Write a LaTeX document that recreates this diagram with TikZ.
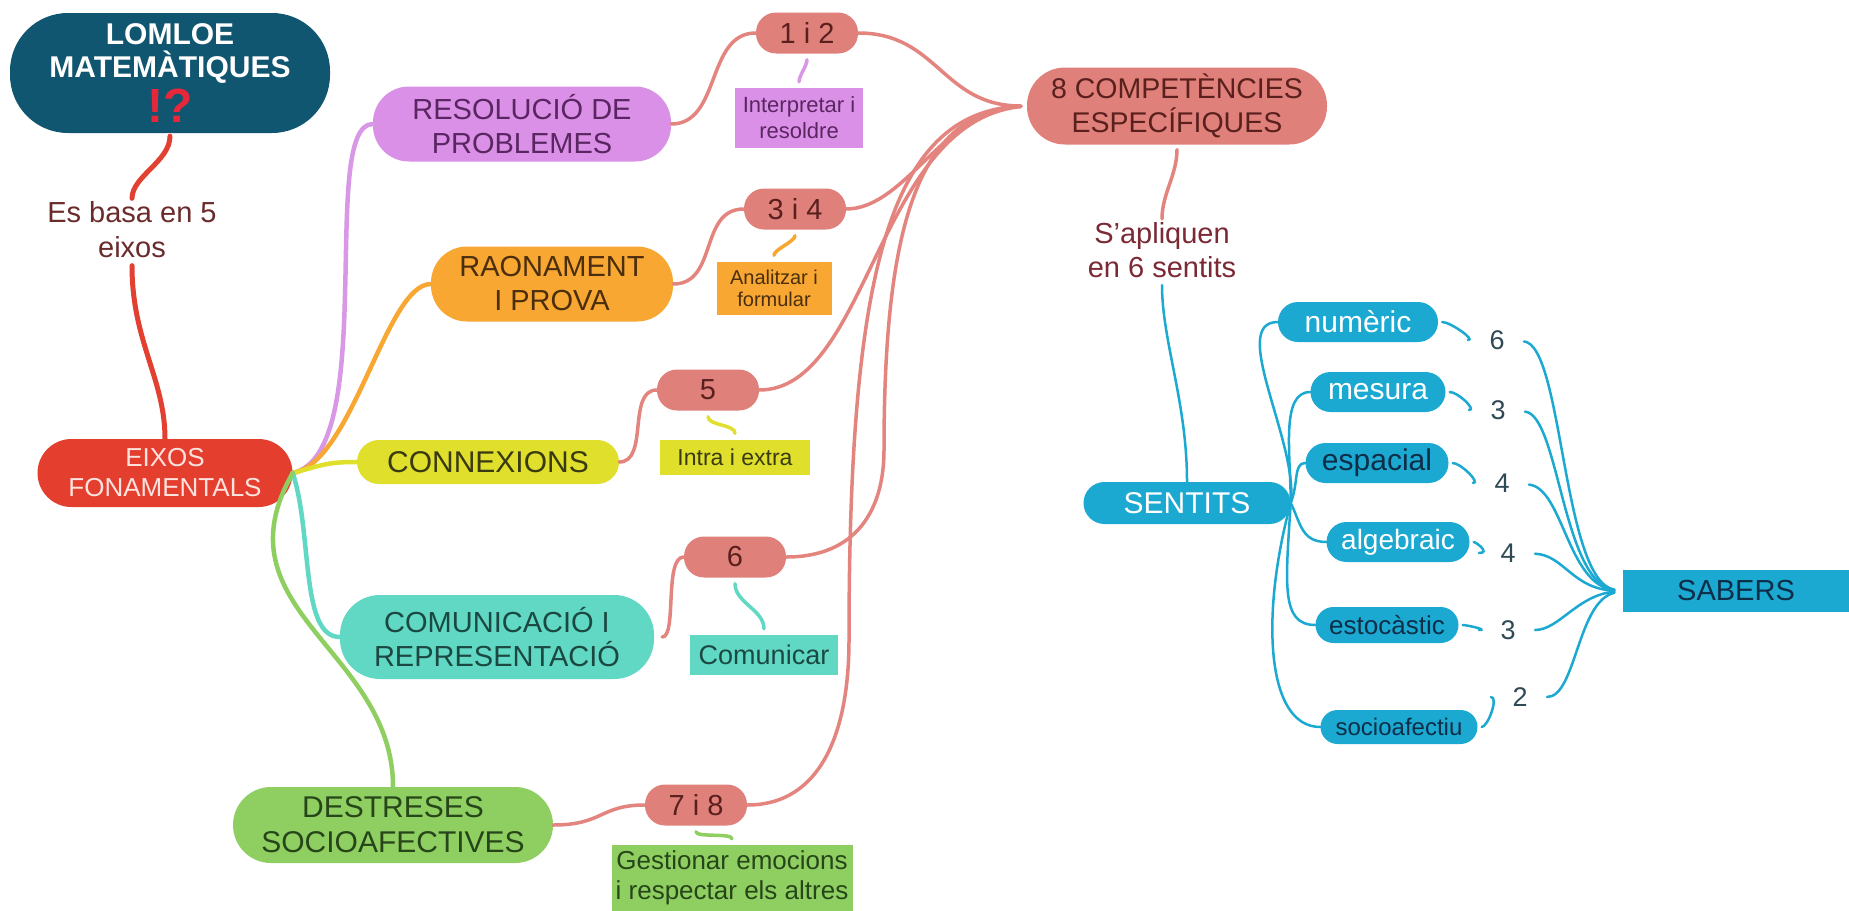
\documentclass[tikz,border=0pt]{standalone}
\usepackage{fontspec}
\setmainfont{Liberation Sans}
\usepackage{tikz}

\definecolor{deepteal}{RGB}{16,86,112}
\definecolor{qred}{RGB}{230,40,58}
\definecolor{eixred}{RGB}{228,62,46}
\definecolor{eixtext}{RGB}{253,226,222}
\definecolor{redline}{RGB}{226,64,48}
\definecolor{basatext}{RGB}{107,43,43}
\definecolor{resviolet}{RGB}{219,144,232}
\definecolor{resline}{RGB}{216,152,230}
\definecolor{resdark}{RGB}{90,38,98}
\definecolor{raoorange}{RGB}{248,167,50}
\definecolor{raodark}{RGB}{74,46,14}
\definecolor{conyellow}{RGB}{224,224,44}
\definecolor{condark}{RGB}{58,58,18}
\definecolor{comteal}{RGB}{96,216,196}
\definecolor{comdark}{RGB}{28,72,66}
\definecolor{desgreen}{RGB}{143,207,98}
\definecolor{desdark}{RGB}{38,70,26}
\definecolor{salmon}{RGB}{224,128,122}
\definecolor{salmonline}{RGB}{228,132,126}
\definecolor{salmondark}{RGB}{90,32,30}
\definecolor{sapltext}{RGB}{122,41,53}
\definecolor{sentblue}{RGB}{27,169,210}
\definecolor{bluedark}{RGB}{14,46,72}
\definecolor{numgray}{RGB}{47,74,85}

\begin{document}
\begin{tikzpicture}[x=1pt,y=-1pt,
        topic/.style={rounded corners=36pt,align=center,inner sep=0pt,minimum height=75pt,font=\fontsize{29}{34}\selectfont},
        compnum/.style={rounded corners=20pt,fill=salmon,text=salmondark,inner sep=0pt,minimum width=102pt,minimum height=41pt,font=\fontsize{29}{34}\selectfont},
        tag/.style={align=center,inner sep=0pt},
        sense/.style={rounded corners=20pt,fill=sentblue,inner sep=0pt,minimum height=40pt},
        count/.style={text=numgray,font=\fontsize{27}{30}\selectfont},
        branch/.style={line width=4.5pt,line cap=round},
        complink/.style={draw=salmonline,line width=3.5pt,line cap=round},
        twig/.style={line width=3.5pt,line cap=round,shorten <=6pt,shorten >=6pt},
        thread/.style={draw=sentblue,line width=2.5pt,line cap=round},
        bluetwig/.style={thread,shorten <=4pt,shorten >=18pt}
    ]

    \useasboundingbox[fill=white] (0,0) rectangle (1849,910);

    \node[topic,rounded corners=58pt,fill=deepteal,text=white,minimum width=320pt,minimum height=120pt,font=\bfseries\fontsize{30}{33}\selectfont] (lomloe) at (170,73) {LOMLOE\\MATEMÀTIQUES\\[4pt]{\fontsize{48}{40}\selectfont\color{qred}!?}};
    \node[text=basatext,align=center,font=\fontsize{29}{35}\selectfont] (basa) at (132,230) {Es basa en 5\\eixos};
    \node[topic,rounded corners=34pt,fill=eixred,text=eixtext,minimum width=255pt,minimum height=68pt,font=\fontsize{26}{30}\selectfont] (eixos) at (165,473) {EIXOS\\FONAMENTALS};

    \node[topic,fill=resviolet,text=resdark,minimum width=298pt] (res) at (522,124) {RESOLUCIÓ DE\\PROBLEMES};
    \node[topic,fill=raoorange,text=raodark,minimum width=242pt] (rao) at (552,284) {RAONAMENT\\I PROVA};
    \node[topic,rounded corners=22pt,fill=conyellow,text=condark,minimum width=262pt,minimum height=44pt,font=\fontsize{30}{34}\selectfont] (con) at (488,462) {CONNEXIONS};
    \node[topic,rounded corners=40pt,fill=comteal,text=comdark,minimum width=314pt,minimum height=84pt] (com) at (497,637) {COMUNICACIÓ I\\REPRESENTACIÓ};
    \node[topic,rounded corners=38pt,fill=desgreen,text=desdark,minimum width=320pt,minimum height=76pt,font=\fontsize{30}{35}\selectfont] (des) at (393,825) {DESTRESES\\SOCIOAFECTIVES};

    \node[compnum] (c12) at (807,33) {1 i 2};
    \node[compnum] (c34) at (795,209) {3 i 4};
    \node[compnum] (c5) at (708,390) {5};
    \node[compnum] (c6) at (735,557) {6};
    \node[compnum] (c78) at (696,805) {7 i 8};

    \node[tag,fill=resviolet,text=resdark,minimum width=128pt,minimum height=60pt,font=\fontsize{22}{26}\selectfont] (t12) at (799,118) {Interpretar i\\resoldre};
    \node[tag,fill=raoorange,text=raodark,minimum width=115pt,minimum height=53pt,font=\fontsize{20}{22}\selectfont] (t34) at (774,288) {Analitzar i\\formular};
    \node[tag,fill=conyellow,text=condark,minimum width=150pt,minimum height=35pt,font=\fontsize{23}{26}\selectfont] (t5) at (735,457) {Intra i extra};
    \node[tag,fill=comteal,text=comdark,minimum width=148pt,minimum height=40pt,font=\fontsize{27}{30}\selectfont] (t6) at (764,655) {Comunicar};
    \node[tag,fill=desgreen,text=desdark,minimum width=241pt,minimum height=66pt,font=\fontsize{26}{30}\selectfont] (t78) at (732,878) {Gestionar emocions\\i respectar els altres};

    \node[topic,rounded corners=38pt,fill=salmon,text=salmondark,minimum width=300pt,minimum height=77pt,font=\fontsize{28.5}{34}\selectfont] (comp) at (1177,106) {8 COMPETÈNCIES\\ESPECÍFIQUES};
    \node[text=sapltext,align=center,font=\fontsize{29}{34}\selectfont] (apl) at (1162,250) {S'apliquen\\en 6 sentits};

    \node[sense,rounded corners=21pt,minimum width=207pt,minimum height=42pt,text=white,font=\fontsize{30}{34}\selectfont] (sent) at (1187,503) {SENTITS};
    \node[sense,minimum width=160pt,text=white,font=\fontsize{30}{34}\selectfont] (snum) at (1358,322) {numèric};
    \node[sense,minimum width=135pt,text=white,font=\fontsize{30}{34}\selectfont] (smes) at (1378,392) {mesura};
    \node[sense,minimum width=143pt,text=bluedark,font=\fontsize{30}{34}\selectfont] (sesp) at (1377,463) {espacial};
    \node[sense,minimum width=143pt,text=white,font=\fontsize{28}{32}\selectfont] (salg) at (1398,542) {algebraic};
    \node[sense,rounded corners=18pt,minimum width=143pt,minimum height=36pt,text=bluedark,font=\fontsize{26}{30}\selectfont] (sest) at (1387,625) {estocàstic};
    \node[sense,rounded corners=17pt,minimum width=157pt,minimum height=34pt,text=bluedark,font=\fontsize{24}{28}\selectfont] (ssoc) at (1399,727) {socioafectiu};

    \node[count] (k6) at (1497,340) {6};
    \node[count] (k3) at (1498,410) {3};
    \node[count] (k4) at (1502,483) {4};
    \node[count] (k4b) at (1508,553) {4};
    \node[count] (k3b) at (1508,630) {3};
    \node[count] (k2) at (1520,697) {2};

    \node[fill=sentblue,text=bluedark,inner sep=0pt,minimum width=227pt,minimum height=42pt,font=\fontsize{29}{32}\selectfont] (sab) at (1736,591) {SABERS};

    \coordinate (bend6) at (884,450);
    \coordinate (bend78) at (849,640);

    \draw[branch,draw=redline,line width=5pt,shorten <=3pt] (lomloe.south) .. controls +(0,28) and +(0,-22) .. (basa.north);
    \draw[branch,draw=redline,line width=5pt,shorten <=4pt] (basa.south) .. controls +(0,80) and +(0,-60) .. (eixos.north);

    \draw[branch,draw=resline] (eixos.east) .. controls +(88,-20) and +(-55,0) .. (res.west);
    \draw[branch,draw=raoorange] (eixos.east) .. controls +(60,-10) and +(-45,0) .. (rao.west);
    \draw[branch,draw=conyellow] (eixos.east) .. controls +(30,-8) and +(-30,0) .. (con.west);
    \draw[branch,draw=comteal] (eixos.east) .. controls +(20,60) and +(-40,0) .. (com.west);
    \draw[branch,draw=desgreen] (eixos.east) .. controls +(-78,137) and +(0,-137) .. (des.north);

    \draw[complink] (res.east) .. controls +(50,0) and +(-50,0) .. (c12.west);
    \draw[complink] (rao.east) .. controls +(45,0) and +(-45,0) .. (c34.west);
    \draw[complink] (con.east) .. controls +(30,0) and +(-30,0) .. (c5.west);
    \draw[complink] ([xshift=8pt]com.east) .. controls +(15,0) and +(-20,0) .. (c6.west);
    \draw[complink] (des.east) .. controls +(50,0) and +(-45,0) .. (c78.west);

    \draw[complink,shorten >=6pt] (c12.east) .. controls +(80,0) and +(-85,0) .. (comp.west);
    \draw[complink,shorten >=6pt] (c34.east) .. controls +(60,0) and +(-80,0) .. (comp.west);
    \draw[complink,shorten >=6pt] (c5.east) .. controls +(110,0) and +(-150,15) .. (comp.west);
    \draw[complink,shorten >=6pt] (c6.east) .. controls +(70,0) and +(0,60) .. (bend6) .. controls +(0,-220) and +(-110,5) .. (comp.west);
    \draw[complink,shorten >=6pt] (c78.east) .. controls +(75,0) and +(0,90) .. (bend78) .. controls +(0,-360) and +(-140,5) .. (comp.west);

    \draw[twig,draw=resline] (c12.south) .. controls +(0,12) and +(0,-12) .. (t12.north);
    \draw[twig,draw=raoorange] (c34.south) .. controls +(0,12) and +(0,-12) .. (t34.north);
    \draw[twig,draw=conyellow] (c5.south) .. controls +(0,15) and +(0,-15) .. (t5.north);
    \draw[twig,draw=comteal] (c6.south) .. controls +(0,25) and +(0,-25) .. (t6.north);
    \draw[twig,draw=desgreen] (c78.south) .. controls +(0,12) and +(0,-12) .. (t78.north);

    \draw[complink,shorten <=5pt] (comp.south) .. controls +(0,30) and +(0,-25) .. (apl.north);
    \draw[thread,shorten <=4pt] (apl.south) .. controls +(0,60) and +(0,-80) .. (sent.north);

    \draw[thread] (sent.east) .. controls +(8,-60) and +(-50,0) .. (snum.west);
    \draw[thread] (sent.east) .. controls +(0,-50) and +(-30,0) .. (smes.west);
    \draw[thread] (sent.east) .. controls +(8,-20) and +(-12,0) .. (sesp.west);
    \draw[thread] (sent.east) .. controls +(10,20) and +(-25,0) .. (salg.west);
    \draw[thread] (sent.east) .. controls +(-5,80) and +(-35,0) .. (sest.west);
    \draw[thread] (sent.east) .. controls +(-30,110) and +(-55,0) .. (ssoc.west);

    \draw[bluetwig] (snum.east) .. controls +(12,0) and +(-10,0) .. (k6.west);
    \draw[bluetwig] (smes.east) .. controls +(12,0) and +(-10,0) .. (k3.west);
    \draw[bluetwig] (sesp.east) .. controls +(12,0) and +(-10,0) .. (k4.west);
    \draw[bluetwig] (salg.east) .. controls +(6,0) and +(-6,0) .. (k4b.west);
    \draw[bluetwig] (sest.east) .. controls +(8,0) and +(-8,0) .. (k3b.west);
    \draw[bluetwig] (ssoc.east) .. controls +(10,0) and +(-10,0) .. (k2.west);

    \draw[thread,shorten <=16pt,shorten >=8pt] (k6.east) .. controls +(55,5) and +(-60,-10) .. (sab.west);
    \draw[thread,shorten <=16pt,shorten >=8pt] (k3.east) .. controls +(50,5) and +(-60,-8) .. (sab.west);
    \draw[thread,shorten <=16pt,shorten >=8pt] (k4.east) .. controls +(50,5) and +(-55,-6) .. (sab.west);
    \draw[thread,shorten <=16pt,shorten >=8pt] (k4b.east) .. controls +(45,2) and +(-50,-2) .. (sab.west);
    \draw[thread,shorten <=16pt,shorten >=8pt] (k3b.east) .. controls +(40,0) and +(-45,4) .. (sab.west);
    \draw[thread,shorten <=16pt,shorten >=8pt] (k2.east) .. controls +(45,0) and +(-45,10) .. (sab.west);

\end{tikzpicture}
\end{document}
